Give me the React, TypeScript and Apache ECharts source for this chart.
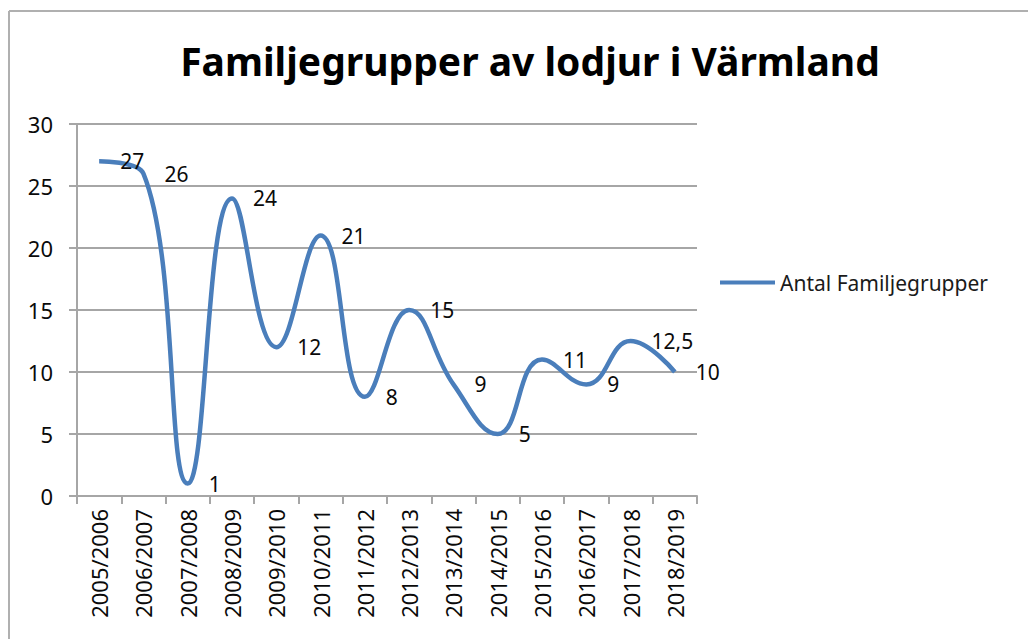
import React, { useEffect, useRef } from "react";
import * as echarts from "echarts";

const categories = [
  "2005/2006", "2006/2007", "2007/2008", "2008/2009", "2009/2010", "2010/2011", "2011/2012",
  "2012/2013", "2013/2014", "2014/2015", "2015/2016", "2016/2017", "2017/2018", "2018/2019",
];
const values = [27, 26, 1, 24, 12, 21, 8, 15, 9, 5, 11, 9, 12.5, 10];
const seriesName = "Antal Familjegrupper";
const titleText = "Familjegrupper av lodjur i Värmland";

const FONT = "'Noto Sans', 'Open Sans', sans-serif";
const GRID = "#a6a6a6";

export default function App() {
  const ref = useRef<HTMLDivElement>(null);
  useEffect(() => {
    if (!ref.current) return;
    const chart = echarts.init(ref.current, null, { renderer: "svg" });
    chart.setOption({
      animation: false,
      backgroundColor: "#ffffff",
      title: {
        text: titleText,
        left: 525,
        top: 36,
        textAlign: "center",
        textStyle: { fontFamily: FONT, fontWeight: "bold", fontSize: 39, color: "#000" },
      },
      legend: {
        left: 720,
        top: 272,
        padding: 0,
        icon: "rect",
        itemWidth: 55,
        itemHeight: 4,
        data: [seriesName],
        textStyle: { fontFamily: FONT, fontSize: 21, color: "#1a1a1a" },
      },
      graphic: [
        { type: "line", shape: { x1: 9, y1: 11, x2: 1028, y2: 11 }, style: { stroke: "#b0b0b0", lineWidth: 2 } },
        { type: "line", shape: { x1: 9, y1: 11, x2: 9, y2: 639 }, style: { stroke: "#b0b0b0", lineWidth: 2 } },
      ],
      grid: { left: 77, right: 331, top: 124, bottom: 143, containLabel: false },
      xAxis: {
        type: "category",
        data: categories,
        boundaryGap: true,
        axisLine: { show: true, lineStyle: { color: GRID, width: 2 } },
        axisTick: { show: true, interval: 0, length: 8, lineStyle: { color: GRID, width: 2 } },
        axisLabel: {
          interval: 0,
          rotate: 90,
          margin: 13,
          fontFamily: FONT,
          fontSize: 22,
          color: "#0a0a0a",
        },
        splitLine: { show: false },
      },
      yAxis: {
        type: "value",
        min: 0,
        max: 30,
        interval: 5,
        axisLine: { show: true, lineStyle: { color: GRID, width: 2 } },
        axisTick: { show: true, length: 8, lineStyle: { color: GRID, width: 2 } },
        axisLabel: { margin: 24, fontFamily: FONT, fontSize: 22, color: "#0a0a0a" },
        splitLine: { show: true, lineStyle: { color: GRID, width: 2 } },
      },
      series: [
        {
          name: seriesName,
          type: "line",
          data: values,
          smooth: 0.45,
          symbol: "circle",
          symbolSize: 0,
          showSymbol: true,
          lineStyle: { color: "#4a7ebb", width: 4.5 },
          itemStyle: { color: "#4a7ebb" },
          label: {
            show: true,
            position: "right",
            distance: 21,
            fontFamily: FONT,
            fontSize: 21,
            color: "#0a0a0a",
            formatter: (p: any) => String(p.value).replace(".", ","),
          },
        },
      ],
    });
    return () => chart.dispose();
  }, []);
  return (
    <div
      ref={ref}
      style={{ position: "fixed", left: 0, top: 0, width: 1028, height: 639 }}
    />
  );
}
